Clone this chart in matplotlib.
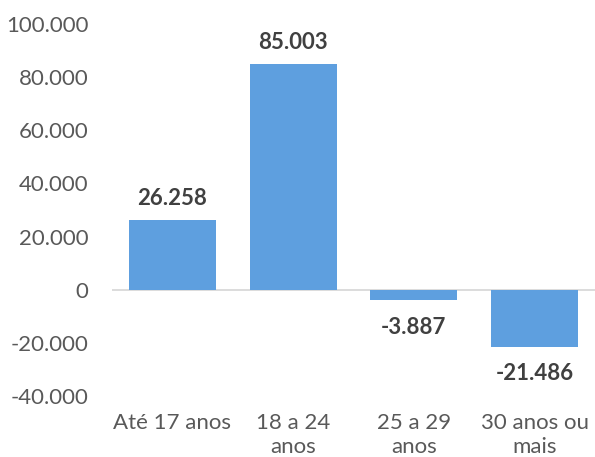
import matplotlib
matplotlib.use("Agg")
import matplotlib.pyplot as plt
from matplotlib.ticker import FuncFormatter

categories = ["Até 17 anos", "18 a 24\nanos", "25 a 29\nanos", "30 anos ou\nmais"]
values = [26258, 85003, -3887, -21486]
y_ticks = [-40000, -20000, 0, 20000, 40000, 60000, 80000, 100000]


def br_fmt(v, pos=None):
    s = f"{int(round(v)):,}".replace(",", ".")
    return s


plt.rcParams["font.family"] = ["Lato", "DejaVu Sans"]

fig = plt.figure(figsize=(5.95, 4.57), dpi=100)
ax = fig.add_axes([112 / 595, (457 - 396) / 457, 483 / 595, (396 - 24) / 457])

x = range(len(categories))
ax.bar(x, values, width=0.72, color="#5e9fdf", zorder=2)
ax.axhline(0, color="#d9d9d9", lw=1.3, zorder=1)

ax.set_xlim(-0.5, len(categories) - 0.5)
ax.set_ylim(-40000, 100000)
ax.set_yticks(y_ticks)
ax.yaxis.set_major_formatter(FuncFormatter(br_fmt))
ax.set_xticks(list(x))
ax.set_xticklabels(categories)

ax.tick_params(axis="y", length=0, pad=17, labelsize=16, labelcolor="#595959")
ax.tick_params(axis="x", length=0, pad=12, labelsize=16, labelcolor="#595959")
for lab in ax.get_xticklabels():
    lab.set_linespacing(1.25)
for spine in ax.spines.values():
    spine.set_visible(False)

for xi, v in zip(x, values):
    off = 8 if v > 0 else -12
    ax.annotate(br_fmt(v), (xi, v), xytext=(0, off), textcoords="offset points",
                ha="center", va="bottom" if v > 0 else "top",
                fontsize=16, fontweight="bold", color="#404040")

fig.savefig("out.png", dpi=100)
